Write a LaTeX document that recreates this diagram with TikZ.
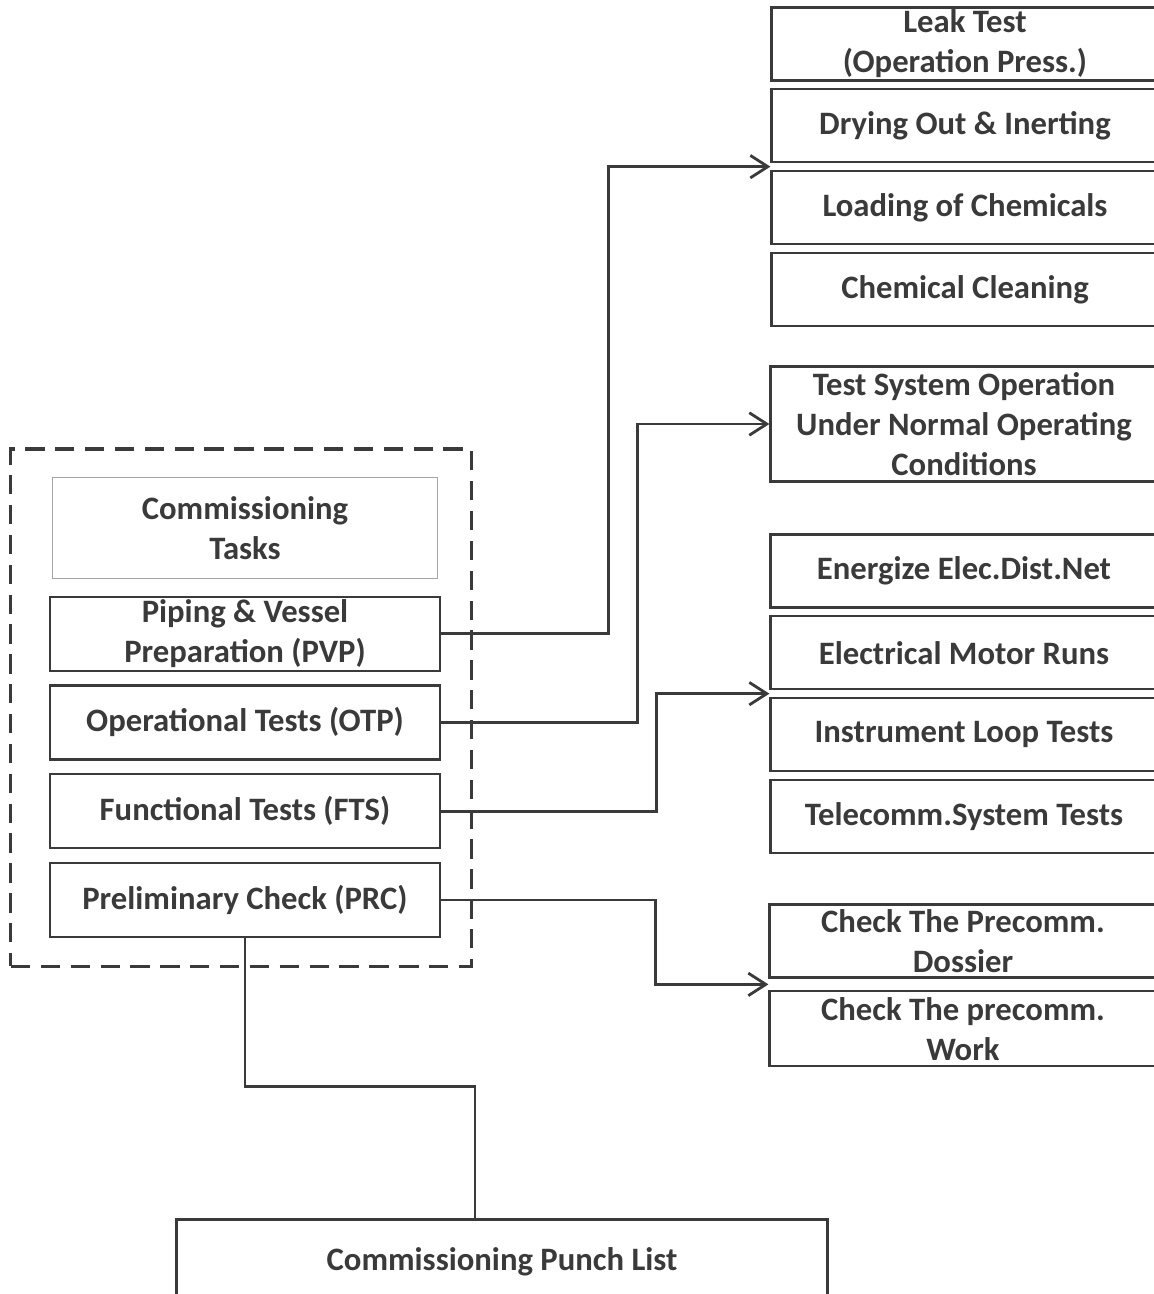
\documentclass[tikz,border=0pt]{standalone}
\usepackage{fontspec}
\setmainfont{Carlito}
\usetikzlibrary{positioning,arrows.meta,fit,calc}
\definecolor{ink}{HTML}{3A3A3A}

\begin{document}
\begin{tikzpicture}[
    x=0.02cm, y=-0.02cm,
    font=\fontsize{18.6}{22.8}\selectfont\bfseries,
    every node/.style={text=ink},
    % task boxes (plain outline, centred text)
    box/.style={draw=ink, line width=1.3pt, align=center, inner sep=0pt},
    rbox/.style={box, minimum width=7.74cm, minimum height=1.46cm},
    lbox/.style={box, minimum width=7.8cm, minimum height=1.48cm},
    head/.style={box, draw=black!35, line width=0.6pt,
                 minimum width=7.7cm, minimum height=2.02cm},
    % dashed container round the commissioning tasks
    taskframe/.style={draw=ink, line width=1.8pt, dash pattern=on 11pt off 6pt,
                      inner ysep=0.56cm, inner xsep=0.68cm, xshift=-0.08cm},
    link/.style={draw=ink, line width=1.6pt},
    arr/.style={link, -{Straight Barb[length=3.5mm, width=4.5mm, line width=1.6pt]}}
  ]
  \useasboundingbox (0,0) rectangle (1153,1294);

  % ===================== RIGHT: sub-tasks =====================
  \node[rbox] (leak) at (965,44) {Leak Test\\(Operation Press.)};
  \node[rbox, below=1.3mm of leak] (dry) {Drying Out \& Inerting};
  \node[rbox, below=1.3mm of dry] (load) {Loading of Chemicals};
  \node[rbox, below=1.3mm of load] (clean) {Chemical Cleaning};

  \node[rbox, minimum height=2.3cm] (tso) at (964,424)
    {Test System Operation\\Under Normal Operating\\Conditions};

  \node[rbox] (energ) at (964,571) {Energize Elec.Dist.Net};
  \node[rbox, below=1.3mm of energ] (motor) {Electrical Motor Runs};
  \node[rbox, below=1.3mm of motor] (instr) {Instrument Loop Tests};
  \node[rbox, below=1.3mm of instr] (tele) {Telecomm.System Tests};

  \node[rbox] (dossier) at (963,941) {Check The Precomm.\\Dossier};
  \node[rbox, below=2.3mm of dossier, minimum height=1.5cm] (work)
    {Check The precomm.\\Work};

  % ===================== LEFT: commissioning tasks =====================
  \node[head] (tasks) at (245,528) {Commissioning\\Tasks};
  \node[lbox, below=3.3mm of tasks] (pvp) {Piping \& Vessel\\Preparation (PVP)};
  \node[lbox, below=2.5mm of pvp] (otp) {Operational Tests (OTP)};
  \node[lbox, below=2.5mm of otp] (fts) {Functional Tests (FTS)};
  \node[lbox, below=2.5mm of fts] (prc) {Preliminary Check (PRC)};

  \node[taskframe, fit=(tasks)(pvp)(otp)(fts)(prc)] (tframe) {};

  \node[box, minimum width=13.02cm, minimum height=1.7cm] (punch) at (502,1262)
    {Commissioning Punch List};

  % ===================== connectors =====================
  \coordinate (pvpin) at ($(dry.south west)!.5!(load.north west)$);
  \coordinate (ftsin) at ($(motor.south west)!.5!(instr.north west)$);
  \coordinate (prcin) at ($(dossier.south west)!.5!(work.north west)$);

  \draw[arr] (pvp.east) -| ($(pvpin)+(-162,0)$) -- (pvpin);
  \draw[arr] (otp.east) -| ($(tso.west)+(-132,0)$) -- (tso.west);
  \draw[arr] (fts.east) -| ($(ftsin)+(-113,0)$) -- (ftsin);
  \draw[arr] (prc.east) -| ($(prcin)+(-113,0)$) -- (prcin);
  \draw[link] (prc.south) -- ++(0,148) -| ($(punch.north)+(-27,0)$);

\end{tikzpicture}
\end{document}
